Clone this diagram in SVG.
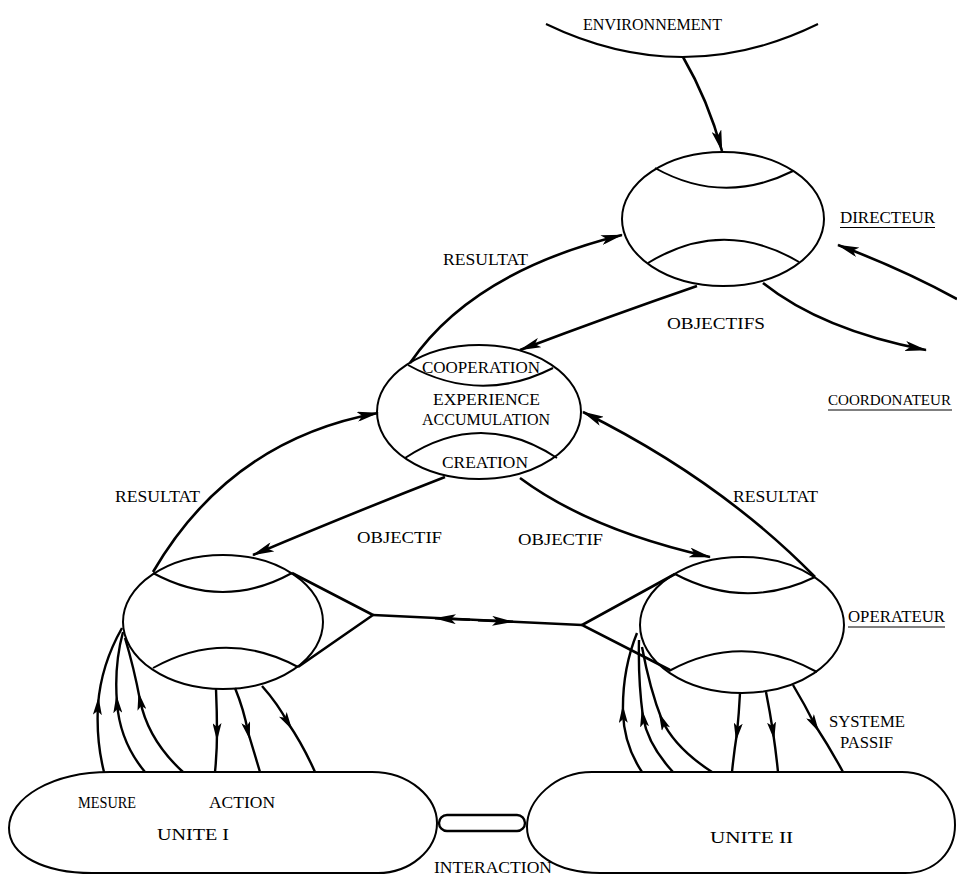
<svg xmlns="http://www.w3.org/2000/svg" width="957" height="876" viewBox="0 0 957 876">
  <style>
    .shape { fill: none; stroke: #000; stroke-width: 2; }
    .link { fill: none; stroke: #000; stroke-width: 2.6; }
    .thin { fill: none; stroke: #000; stroke-width: 2.4; }
    text { font-family: "Liberation Serif", "Times New Roman", serif; font-size: 17px; fill: #000; }
    .small { font-size: 16px; }
    .ul { stroke: #000; stroke-width: 1.2; }
  </style>
  <defs>
    <!-- arrowhead with the tip at the end of a path -->
    <marker id="tip" viewBox="0 0 22 10" refX="21" refY="5" markerWidth="22" markerHeight="10" markerUnits="userSpaceOnUse" orient="auto">
      <path d="M0,0 L22,5 L0,10 L5,5 z" fill="#000"/>
    </marker>
    <!-- arrowhead centred on an inner vertex of a path -->
    <marker id="mid" viewBox="0 0 18 9" refX="10" refY="4.5" markerWidth="18" markerHeight="9" markerUnits="userSpaceOnUse" orient="auto">
      <path d="M0,0 L18,4.5 L0,9 L4,4.5 z" fill="#000"/>
    </marker>
  </defs>

  <rect width="957" height="876" fill="#fff"/>

  <!-- environment boundary -->
  <g id="environnement">
    <path class="shape" d="M 546 24 Q 683 90 818 24"/>
    <text x="583" y="30" textLength="139" lengthAdjust="spacingAndGlyphs">ENVIRONNEMENT</text>
  </g>

  <!-- director level -->
  <g id="directeur">
    <ellipse class="shape" cx="723" cy="219" rx="101" ry="67"/>
    <path class="shape" d="M 655 168 Q 723 206 793 171"/>
    <path class="shape" d="M 648 263 Q 723 217 799 262"/>
    <text x="840" y="223" textLength="95" lengthAdjust="spacingAndGlyphs">DIRECTEUR</text>
    <line class="ul" x1="840" y1="227.5" x2="935" y2="227.5"/>
  </g>

  <g id="coordonateur-label">
    <text x="828" y="405" style="font-size:15px" textLength="123" lengthAdjust="spacingAndGlyphs">COORDONATEUR</text>
    <line class="ul" x1="828" y1="410" x2="952" y2="410"/>
  </g>

  <!-- coordination level -->
  <g id="coordination">
    <ellipse class="shape" cx="479" cy="412" rx="102" ry="67"/>
    <path class="shape" d="M 408 365 Q 480 405 553 368"/>
    <path class="shape" d="M 405 458 Q 481 408 557 458"/>
    <text x="422" y="373" textLength="118" lengthAdjust="spacingAndGlyphs">COOPERATION</text>
    <text x="433" y="405" textLength="107" lengthAdjust="spacingAndGlyphs">EXPERIENCE</text>
    <text x="422" y="425" textLength="128" lengthAdjust="spacingAndGlyphs">ACCUMULATION</text>
    <text x="442" y="468" textLength="86" lengthAdjust="spacingAndGlyphs">CREATION</text>
  </g>

  <!-- operator of unit I -->
  <g id="operateur-1">
    <ellipse class="shape" cx="223" cy="622" rx="100" ry="67"/>
    <path class="shape" d="M 153 573 Q 223 611 292 573"/>
    <path class="shape" d="M 153 668 Q 225 628 298 667"/>
  </g>

  <!-- operator of unit II -->
  <g id="operateur-2">
    <ellipse class="shape" cx="742" cy="625" rx="102" ry="68"/>
    <path class="shape" d="M 675 574 Q 745 611 815 577"/>
    <path class="shape" d="M 669 671 Q 742 631 817 672"/>
    <text x="848" y="622" textLength="97" lengthAdjust="spacingAndGlyphs">OPERATEUR</text>
    <line class="ul" x1="848" y1="627" x2="945" y2="627"/>
  </g>

  <!-- controlled units -->
  <g id="unite-1">
    <path class="shape" d="M 110 772 L 372 772 C 410 772 437 798 437 823 C 437 850 410 873 378 873 L 92 873 C 45 873 9 856 9 828 C 9 798 52 772 110 772 Z"/>
    <text class="small" x="78" y="808" textLength="58" lengthAdjust="spacingAndGlyphs">MESURE</text>
    <text class="small" x="209" y="808" textLength="66" lengthAdjust="spacingAndGlyphs">ACTION</text>
    <text class="small" x="157" y="840" textLength="72" lengthAdjust="spacingAndGlyphs">UNITE  I</text>
  </g>

  <g id="unite-2">
    <path class="shape" d="M 592 772 L 902 772 C 935 772 955 798 955 825 C 955 852 935 873 905 873 L 600 873 C 555 873 527 852 527 827 C 527 800 555 772 592 772 Z"/>
    <text class="small" x="710" y="843" textLength="83" lengthAdjust="spacingAndGlyphs">UNITE  II</text>
    <text class="small" x="829" y="727" textLength="76" lengthAdjust="spacingAndGlyphs">SYSTEME</text>
    <text class="small" x="840" y="748" textLength="53" lengthAdjust="spacingAndGlyphs">PASSIF</text>
  </g>

  <g id="interaction">
    <rect x="439" y="815" width="86" height="16" rx="8" ry="8" fill="#fff" stroke="#000" stroke-width="2.4"/>
    <text class="small" x="434" y="873" textLength="118" lengthAdjust="spacingAndGlyphs">INTERACTION</text>
  </g>

  <!-- flow labels -->
  <g id="labels">
    <text x="443" y="265" textLength="85" lengthAdjust="spacingAndGlyphs">RESULTAT</text>
    <text x="667" y="329" textLength="98" lengthAdjust="spacingAndGlyphs">OBJECTIFS</text>
    <text x="115" y="502" textLength="85" lengthAdjust="spacingAndGlyphs">RESULTAT</text>
    <text x="733" y="502" textLength="85" lengthAdjust="spacingAndGlyphs">RESULTAT</text>
    <text x="357" y="543" textLength="85" lengthAdjust="spacingAndGlyphs">OBJECTIF</text>
    <text x="518" y="545" textLength="85" lengthAdjust="spacingAndGlyphs">OBJECTIF</text>
  </g>

  <g id="connectors">
    <!-- environment to director -->
    <path class="link" d="M 683 57 Q 708 100 722 151" marker-end="url(#tip)"/>
    <!-- director outputs -->
    <path class="link" d="M 697 286 Q 610 316 520 350" marker-end="url(#tip)"/>
    <path class="link" d="M 763 283 Q 822 330 926 350" marker-end="url(#tip)"/>
    <path class="link" d="M 957 299 Q 900 268 838 245" marker-end="url(#tip)"/>
    <!-- results upward -->
    <path class="link" d="M 410 363 Q 472 272 622 235" marker-end="url(#tip)"/>
    <path class="link" d="M 153 572 Q 230 440 378 413" marker-end="url(#tip)"/>
    <path class="link" d="M 815 577 Q 720 480 583 412" marker-end="url(#tip)"/>
    <!-- objectives downward -->
    <path class="link" d="M 445 477 Q 355 512 253 555" marker-end="url(#tip)"/>
    <path class="link" d="M 520 478 Q 590 530 710 557" marker-end="url(#tip)"/>

    <!-- link between the two operators -->
    <polyline class="link" points="292,573 373,615 298,667"/>
    <polyline class="link" points="675,574 582,625 670,670"/>
    <line class="link" x1="373" y1="615" x2="582" y2="625"/>
    <path class="link" d="M 470 619.8 L 435 618.2" marker-end="url(#tip)"/>
    <path class="link" d="M 478 620.2 L 513 621.8" marker-end="url(#tip)"/>

    <!-- unit I: measures up, actions down -->
    <path class="thin" d="M 104 772 Q 96 740 98 705 Q 101 665 122 628" marker-mid="url(#mid)"/>
    <path class="thin" d="M 145 772 Q 120 742 117 703 Q 114 665 123 632" marker-mid="url(#mid)"/>
    <path class="thin" d="M 183 772 Q 148 740 140 700 Q 134 668 125 638" marker-mid="url(#mid)"/>
    <path class="thin" d="M 216 689 Q 217 712 217 733 Q 217 752 215 772" marker-mid="url(#mid)"/>
    <path class="thin" d="M 235 688 Q 244 710 248 732 Q 254 752 260 772" marker-mid="url(#mid)"/>
    <path class="thin" d="M 262 686 Q 278 704 288 723 Q 303 745 315 772" marker-mid="url(#mid)"/>

    <!-- unit II: measures up, actions down -->
    <path class="thin" d="M 642 772 Q 624 745 623 713 Q 622 670 637 633" marker-mid="url(#mid)"/>
    <path class="thin" d="M 673 772 Q 648 745 643 717 Q 638 680 639 640" marker-mid="url(#mid)"/>
    <path class="thin" d="M 712 772 Q 675 748 662 720 Q 650 690 642 647" marker-mid="url(#mid)"/>
    <path class="thin" d="M 740 693 Q 739 713 737 733 Q 734 752 732 772" marker-mid="url(#mid)"/>
    <path class="thin" d="M 766 692 Q 770 712 773 732 Q 776 752 778 772" marker-mid="url(#mid)"/>
    <path class="thin" d="M 793 685 Q 805 705 815 725 Q 830 748 843 772" marker-mid="url(#mid)"/>
  </g>
</svg>
